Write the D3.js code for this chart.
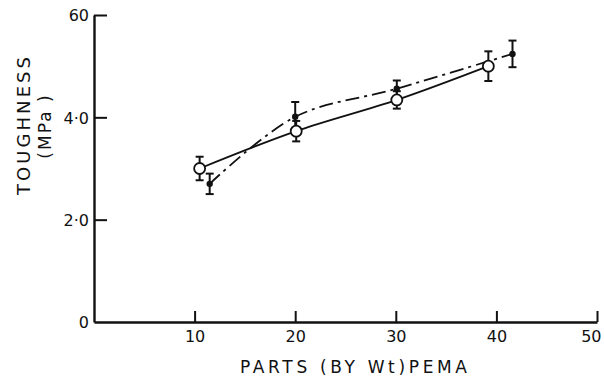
<!DOCTYPE html>
<html>
<head>
<meta charset="utf-8">
<script src="https://cdn.jsdelivr.net/npm/d3@7"></script>
<style>
  body { margin: 0; background: #fff; }
  text { font-family: "DejaVu Sans", "Liberation Sans", sans-serif; fill: #111; }
</style>
</head>
<body>
<div id="chart"></div>
<script>
// open circles, solid line
var openX = [10.5, 20.1, 30.1, 39.2];
var openY = [3.0, 3.73, 4.34, 5.0];
var openErr = [0.23, 0.2, 0.17, 0.29];

// filled dots, dash-dot line
var filledX = [11.5, 20.0, 30.1, 41.6];
var filledY = [2.7, 4.01, 4.56, 5.24];
var filledErr = [0.2, 0.29, 0.16, 0.26];

var xTicks = [10, 20, 30, 40, 50];
var yTicks = [0, 2, 4, 6];
var yTickLabels = ["0", "2·0", "4·0", "60"];

var width = 604, height = 379;

var x = d3.scaleLinear().domain([0, 50]).range([94, 597]);
var y = d3.scaleLinear().domain([0, 6]).range([322, 15]);

var svg = d3.select("#chart").append("svg")
  .attr("width", width)
  .attr("height", height);

// axes, ticks point inward
var xAxis = d3.axisBottom(x).tickValues(xTicks).tickSizeInner(-11).tickSizeOuter(0).tickPadding(9);
var yAxis = d3.axisLeft(y).tickValues(yTicks).tickSizeInner(-13).tickSizeOuter(0).tickPadding(5)
  .tickFormat(function(d, i) { return yTickLabels[i]; });

var gx = svg.append("g").attr("transform", "translate(0," + y(0) + ")").call(xAxis);
var gy = svg.append("g").attr("transform", "translate(" + x(0) + ",0)").call(yAxis);

[gx, gy].forEach(function(g) {
  g.select(".domain").attr("stroke", "#111").attr("stroke-width", 2.4);
  g.selectAll(".tick line").attr("stroke", "#111").attr("stroke-width", 2);
  g.selectAll(".tick text").style("font-size", "16px").style("font-family", "DejaVu Sans").attr("fill", "#111");
});
gy.selectAll(".tick text").attr("dy", "0.36em");
gy.selectAll(".tick").filter(function(d) { return d === 0; }).select("line").remove();
// last x label sits left of its tick, as in the original
gx.selectAll(".tick").filter(function(d) { return d === 50; }).select("text")
  .attr("text-anchor", "end").attr("x", 4);

// axis titles
svg.append("text")
  .attr("x", 240).attr("y", 373)
  .attr("textLength", 227)
  .attr("lengthAdjust", "spacing")
  .style("font-size", "17px")
  .text("PARTS  (BY Wt)PEMA");

svg.append("text")
  .attr("transform", "translate(30,195)rotate(-90)")
  .attr("textLength", 138)
  .attr("lengthAdjust", "spacing")
  .style("font-size", "18px")
  .text("TOUGHNESS");

svg.append("text")
  .attr("transform", "translate(51,126)rotate(-90)")
  .attr("text-anchor", "middle")
  .style("font-size", "17px")
  .style("letter-spacing", "2px")
  .text("(MPa )");

var openPts = openX.map(function(d, i) { return [d, openY[i], openErr[i]]; });
var filledPts = filledX.map(function(d, i) { return [d, filledY[i], filledErr[i]]; });

var line = d3.line()
  .x(function(d) { return x(d[0]); })
  .y(function(d) { return y(d[1]); })
  .curve(d3.curveCatmullRom.alpha(0.5));

svg.append("path")
  .datum(openPts)
  .attr("d", line)
  .attr("fill", "none")
  .attr("stroke", "#111")
  .attr("stroke-width", 1.8);

svg.append("path")
  .datum(filledPts)
  .attr("d", line)
  .attr("fill", "none")
  .attr("stroke", "#111")
  .attr("stroke-width", 1.8)
  .attr("stroke-dasharray", "14,5,3,5");

function errorBars(pts) {
  var g = svg.append("g").attr("stroke", "#111").attr("stroke-width", 2);
  pts.forEach(function(d) {
    var cx = x(d[0]);
    g.append("line").attr("x1", cx).attr("x2", cx).attr("y1", y(d[1] - d[2])).attr("y2", y(d[1] + d[2]));
    g.append("line").attr("x1", cx - 4).attr("x2", cx + 4).attr("y1", y(d[1] - d[2])).attr("y2", y(d[1] - d[2]));
    g.append("line").attr("x1", cx - 4).attr("x2", cx + 4).attr("y1", y(d[1] + d[2])).attr("y2", y(d[1] + d[2]));
  });
}
errorBars(openPts);
errorBars(filledPts);

svg.selectAll(".open")
  .data(openPts)
  .enter().append("circle")
  .attr("cx", function(d) { return x(d[0]); })
  .attr("cy", function(d) { return y(d[1]); })
  .attr("r", 5.5)
  .attr("fill", "#fff")
  .attr("stroke", "#111")
  .attr("stroke-width", 1.8);

svg.selectAll(".filled")
  .data(filledPts)
  .enter().append("circle")
  .attr("cx", function(d) { return x(d[0]); })
  .attr("cy", function(d) { return y(d[1]); })
  .attr("r", 3.2)
  .attr("fill", "#111");
</script>
</body>
</html>
